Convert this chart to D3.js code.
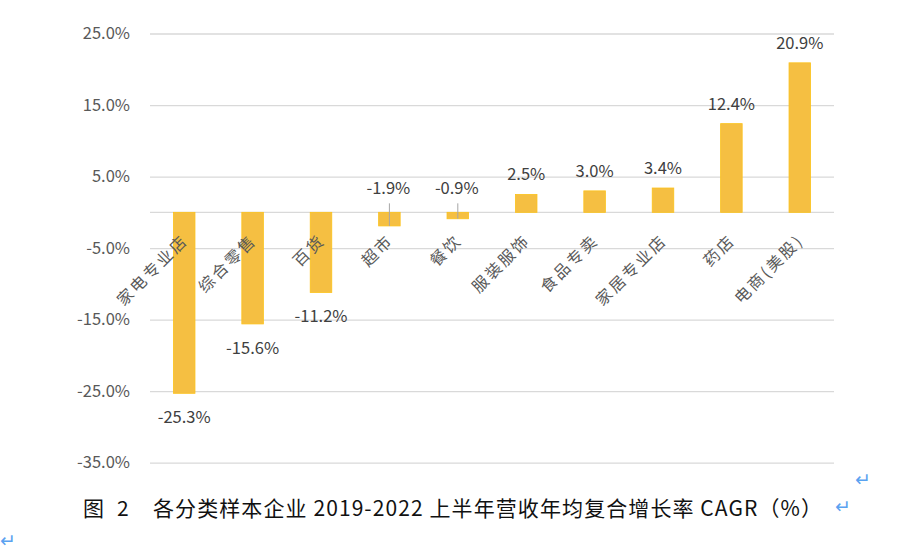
<!DOCTYPE html>
<html>
<head>
<meta charset="utf-8">
<script src="https://cdn.jsdelivr.net/npm/d3@7"></script>
<style>
  body { margin: 0; background: #fff; }
  svg { display: block; font-family: "Noto Sans CJK SC", "Noto Sans", sans-serif; }
</style>
</head>
<body>
<svg id="chart" width="900" height="556"></svg>
<script>
// categories and CAGR values (%)
var categories = ['家电专业店', '综合零售', '百货', '超市', '餐饮', '服装服饰', '食品专卖', '家居专业店', '药店', '电商(美股)'];
var cagr = [-25.3, -15.6, -11.2, -1.9, -0.9, 2.5, 3.0, 3.4, 12.4, 20.9];
var yTicks = [25, 15, 5, -5, -15, -25, -35];
var caption = '各分类样本企业 2019-2022 上半年营收年均复合增长率 CAGR（%）';

var svg = d3.select('#chart');
var plot = { left: 150, right: 834, top: 33.5, bottom: 462.7 };

var x = d3.scaleBand()
  .domain(categories)
  .range([plot.left, plot.right])
  .paddingInner(0.685)
  .paddingOuter(0.3425);

var y = d3.scaleLinear().domain([-35, 25]).range([plot.bottom, plot.top]);

// plain hyphen for negatives, like the original
var locale = d3.formatLocale({ decimal: '.', thousands: ',', grouping: [3], currency: ['', ''], minus: '-' });
var fmt = function (d) { return locale.format('.1f')(d) + '%'; };

// gridlines + tick labels
var yAxis = svg.append('g')
  .attr('transform', 'translate(' + plot.left + ',0)')
  .call(d3.axisLeft(y).tickValues(yTicks).tickFormat(fmt)
    .tickSize(-(plot.right - plot.left)).tickPadding(20));

yAxis.select('.domain').remove();
yAxis.selectAll('.tick line').attr('stroke', '#d9d9d9').attr('stroke-width', 1.3);
yAxis.selectAll('.tick text')
  .attr('fill', '#595959')
  .style('font-size', '16.5px')
  .style('font-family', '"Noto Sans CJK SC", sans-serif');

// zero line
svg.append('line')
  .attr('x1', plot.left).attr('x2', plot.right)
  .attr('y1', y(0)).attr('y2', y(0))
  .attr('stroke', '#d9d9d9').attr('stroke-width', 1.3);

// bars
var data = categories.map(function (c, i) { return { cat: c, v: cagr[i] }; });

svg.append('g').selectAll('rect').data(data).enter()
  .append('rect')
  .attr('x', function (d) { return x(d.cat); })
  .attr('width', x.bandwidth())
  .attr('y', function (d) { return y(Math.max(0, d.v)); })
  .attr('height', function (d) { return Math.abs(y(d.v) - y(0)); })
  .attr('fill', '#f5bf42')
  .attr('stroke', '#fcc21b')
  .attr('stroke-width', 0.8);

// category labels, rotated, drawn over the bars
svg.append('g').selectAll('text').data(data).enter()
  .append('text')
  .attr('transform', function (d) {
    return 'translate(' + (x(d.cat) + x.bandwidth() / 2 + 5) + ',' + (y(0) + 29) + ') rotate(-45)';
  })
  .attr('text-anchor', 'end')
  .attr('fill', '#595959')
  .style('font-size', '16px')
  .style('letter-spacing', '2.5px')
  .text(function (d) { return d.cat; });

// value labels; tiny bars get a label above the axis with a leader line
var cx = function (d) { return x(d.cat) + x.bandwidth() / 2; };
var small = function (d) { return d.v < 0 && d.v > -2; };

svg.append('g').selectAll('line').data(data.filter(small)).enter()
  .append('line')
  .attr('x1', function (d) { return cx(d); })
  .attr('x2', function (d) { return cx(d); })
  .attr('y1', y(0) - 9)
  .attr('y2', function (d) { return y(d.v); })
  .attr('stroke', '#a6a6a6').attr('stroke-width', 1);

svg.append('g').selectAll('text').data(data).enter()
  .append('text')
  .attr('x', function (d) { return cx(d) - (small(d) ? 1 : 0); })
  .attr('y', function (d) {
    if (small(d)) return y(0) - 18;
    return d.v >= 0 ? y(d.v) - 14 : y(d.v) + 30;
  })
  .attr('text-anchor', 'middle')
  .attr('fill', '#404040')
  .style('font-size', '16.5px')
  .text(function (d) { return fmt(d.v); });

// caption
var cap = svg.append('g').attr('fill', '#111').style('font-size', '21px');
cap.append('text').attr('x', 83).attr('y', 516).text('图');
cap.append('text').attr('x', 117).attr('y', 516).text('2');
cap.append('text').attr('x', 153).attr('y', 516)
  .attr('textLength', 669).attr('lengthAdjust', 'spacing')
  .text(caption);

// paragraph marks
var marks = [[855, 486], [835, 513], [0, 547]];
svg.append('g').selectAll('text').data(marks).enter()
  .append('text')
  .attr('x', function (d) { return d[0]; })
  .attr('y', function (d) { return d[1]; })
  .attr('fill', '#5aa2f0')
  .style('font-size', '19px')
  .style('font-family', '"DejaVu Sans", sans-serif')
  .text('↵');
</script>
</body>
</html>
